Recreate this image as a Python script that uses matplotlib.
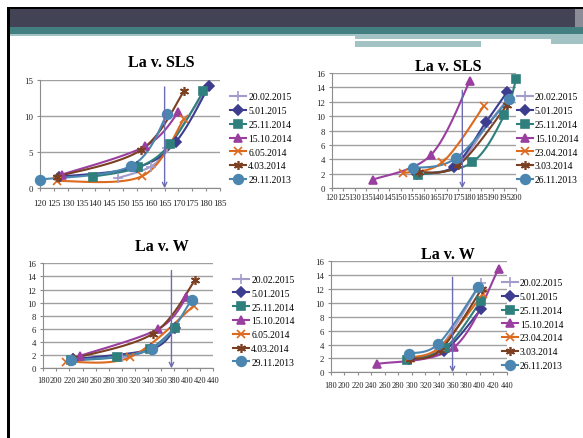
import numpy as np
import matplotlib
matplotlib.use('Agg')
import matplotlib.pyplot as plt
from matplotlib.patches import Rectangle
from matplotlib.lines import Line2D

W, H = 583, 439

dates_a = ['20.02.2015', '5.01.2015', '25.11.2014', '15.10.2014',
           '6.05.2014', '4.03.2014', '29.11.2013']
dates_b = ['20.02.2015', '5.01.2015', '25.11.2014', '15.10.2014',
           '23.04.2014', '3.03.2014', '26.11.2013']

# La v. SLS, first set
sls_a_x = [[148, 160, 166, 180], [127, 155, 169, 181], [139, 155.5, 167, 179],
           [128, 158, 170], [126, 157, 172], [126, 156.5, 172], [120, 153, 166]]
sls_a_y = [[1.4, 3.0, 5.6, 13.6], [1.6, 2.9, 6.4, 14.1], [1.6, 2.9, 6.1, 13.4],
           [1.9, 5.8, 10.5], [1.0, 1.7, 9.6], [1.6, 5.3, 13.4], [1.2, 3.1, 10.3]]

# La v. SLS, second set
sls_b_x = [[158, 174, 188, 197], [157, 173, 187, 196], [157.5, 181, 195, 200],
           [138, 163, 180], [151, 168, 186], [158, 175, 196], [155.5, 174, 197]]
sls_b_y = [[2.1, 3.1, 9.0, 12.6], [2.0, 3.0, 9.2, 13.3], [1.85, 3.6, 10.2, 15.1],
           [1.2, 4.6, 14.9], [2.1, 3.6, 11.4], [2.2, 3.2, 11.5], [2.8, 4.2, 12.4]]

# La v. W, first set
w_a_x = [[226, 300, 344, 380], [226, 345, 382], [222, 292, 343, 381.5],
         [236, 356, 399], [215, 313, 410], [226, 348, 412], [222, 346, 407]]
w_a_y = [[1.5, 1.7, 3.0, 6.0], [1.4, 2.9, 6.2], [1.2, 1.7, 2.9, 6.1],
         [1.9, 6.0, 10.8], [1.0, 1.7, 9.5], [1.5, 5.3, 13.4], [1.2, 3.0, 10.4]]

# La v. W, second set
w_b_x = [[295, 340, 402], [296, 348, 402], [292, 349, 402],
         [249, 362, 428], [295, 341, 405], [297, 342, 403], [295, 339, 398]]
w_b_y = [[2.0, 3.4, 12.9], [1.9, 3.1, 9.1], [1.8, 3.5, 10.3],
         [1.2, 3.6, 14.9], [2.1, 3.6, 11.3], [1.9, 3.2, 12.0], [2.7, 4.1, 12.3]]

# vertical marker lines: (x, top)
mark_sls_a = (165, 14.0)
mark_sls_b = (176.7, 13.6)
mark_w_a = (376, 14.9)
mark_w_b = (360, 13.7)

colors = ['#a29ccb', '#3d3d8f', '#2f7f7c', '#9a3fa0', '#dc6a1f', '#7b3f22', '#4a86b0']
markers = ['+', 'D', 's', '^', 'x', (6, 2, 0), 'o']
msizes = [6.5, 4.8, 6.2, 6.2, 5.3, 6.5, 7]

serif = 'Liberation Serif'


def smooth(xs, ys, n=30):
    # piecewise cubic bezier through the points (smoothed line)
    p = np.column_stack([xs, ys]).astype(float)
    if len(p) < 3:
        return p[:, 0], p[:, 1]
    ext = np.vstack([p[0], p, p[-1]])
    t = np.linspace(0, 1, n)[1:, None]
    out = [p[:1]]
    for i in range(len(p) - 1):
        p0, p3 = ext[i + 1], ext[i + 2]
        c1 = p0 + (ext[i + 2] - ext[i]) / 6
        c2 = p3 - (ext[i + 3] - ext[i + 1]) / 6
        out.append((1 - t) ** 3 * p0 + 3 * (1 - t) ** 2 * t * c1
                   + 3 * (1 - t) * t ** 2 * c2 + t ** 3 * p3)
    q = np.vstack(out)
    return q[:, 0], q[:, 1]


fig = plt.figure(figsize=(W / 100, H / 100), dpi=100)
fig.patch.set_facecolor('white')

# slide header bands
bg = fig.add_axes([0, 0, 1, 1])
bg.set_xlim(0, W)
bg.set_ylim(H, 0)
bg.axis('off')
for x, y, w, h, c in [
        (7, 8, 576, 2.5, '#000000'),
        (7, 8, 3, 431, '#000000'),
        (10, 10, 565, 18, '#424456'),
        (575, 10, 8, 18, '#8a8c98'),
        (10, 28, 573, 7, '#437e81'),
        (10, 34.5, 573, 2.5, '#a3c2c4'),
        (355, 37, 126, 10.5, '#a3c2c4'),
        (481, 37, 70, 3, '#a3c2c4'),
        (551, 37, 32, 8, '#a3c2c4'),
        (355, 40, 196, 1.5, '#ffffff')]:
    bg.add_patch(Rectangle((x, y), w, h, color=c, lw=0))


def chart(box, title, title_xy, xs, ys, labels, xticks, yticks, mark,
          leg_xy, xpad, xsize):
    l, t, r, b = box
    ax = fig.add_axes([l / W, 1 - b / H, (r - l) / W, (b - t) / H])
    ax.set_facecolor('none')
    for x, y, c, m, s in zip(xs, ys, colors, markers, msizes):
        sx, sy = smooth(x, y)
        ax.plot(sx, sy, color=c, lw=1.5, zorder=3, clip_on=False)
        ax.plot(x, y, ls='none', marker=m, ms=s, color=c, mec=c, mew=1.2,
                zorder=4, clip_on=False)
    ax.annotate('', xy=(mark[0], 0), xytext=(mark[0], mark[1]),
                arrowprops=dict(arrowstyle='->', color='#6c6cb4', lw=1,
                                shrinkA=0, shrinkB=0, mutation_scale=8),
                annotation_clip=False, zorder=5)
    ax.set_xlim(xticks[0], xticks[-1])
    ax.set_ylim(yticks[0], yticks[-1])
    ax.set_xticks(xticks)
    ax.set_yticks(yticks)
    ax.set_xticklabels([str(v) for v in xticks], fontsize=xsize, family=serif)
    ax.set_yticklabels([str(v) for v in yticks], fontsize=6.3, family=serif)
    ax.yaxis.grid(True, color='#a0a0a0', lw=1)
    ax.set_axisbelow(True)
    for s in ['top', 'right']:
        ax.spines[s].set_visible(False)
    for s in ['left', 'bottom']:
        ax.spines[s].set_color('#8c8c8c')
    ax.tick_params(axis='both', colors='#8c8c8c', labelcolor='#222222',
                   length=2.5, width=0.8, pad=2.5)
    ax.tick_params(axis='x', pad=xpad)
    fig.text(title_xy[0] / W, 1 - title_xy[1] / H, title, ha='center',
             va='center', fontsize=11.5, fontweight='bold', family=serif)
    handles = [Line2D([], [], color=c, lw=1.5, marker=m, ms=s, mew=1.2)
               for c, m, s in zip(colors, markers, msizes)]
    ax.legend(handles, labels, loc='upper left',
              bbox_to_anchor=(leg_xy[0] / W, 1 - leg_xy[1] / H),
              bbox_transform=fig.transFigure, frameon=False,
              prop={'family': serif, 'size': 6.9}, handlelength=1.7,
              handletextpad=0.2, labelspacing=0.5, borderpad=0,
              borderaxespad=0)
    return ax


chart((40, 80.7, 220, 189.3), 'La v. SLS', (161.7, 62.7), sls_a_x, sls_a_y,
      dates_a, list(range(120, 186, 5)), [0, 5, 10, 15], mark_sls_a,
      (230, 93.5), 5.5, 6.5)
chart((331.7, 74, 516, 189.3), 'La v. SLS', (448.3, 67.3), sls_b_x, sls_b_y,
      dates_b, list(range(120, 201, 5)), list(range(0, 17, 2)), mark_sls_b,
      (516.7, 93.5), 0.8, 6)
chart((43.3, 264.3, 213.3, 369.3), 'La v. W', (161.7, 247.3), w_a_x, w_a_y,
      dates_a, list(range(180, 441, 20)), list(range(0, 17, 2)), mark_w_a,
      (233, 276), 2.8, 6)
chart((330.7, 262.3, 506.7, 373.3), 'La v. W', (448.3, 255), w_b_x, w_b_y,
      dates_b, list(range(180, 441, 20)), list(range(0, 17, 2)), mark_w_b,
      (501.7, 279.3), 3.5, 6)

fig.savefig('out.png', dpi=100, facecolor='white')
